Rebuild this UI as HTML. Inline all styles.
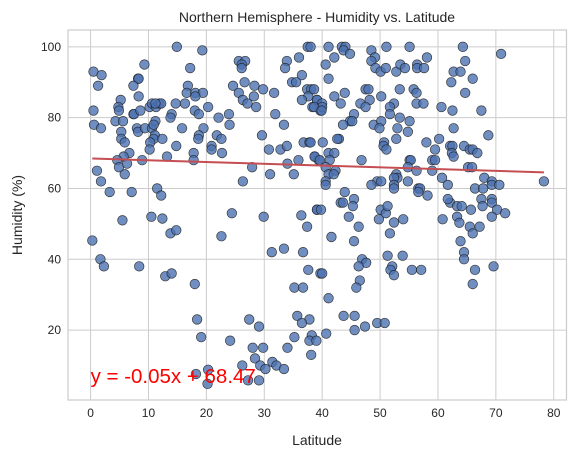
<!DOCTYPE html>
<html><head><meta charset="utf-8"><style>
body{margin:0;background:#fff;}
svg{display:block;font-family:"Liberation Sans","DejaVu Sans",sans-serif;}
</style></head><body>
<svg id="chart" width="575" height="457" viewBox="0 0 575 457" xmlns="http://www.w3.org/2000/svg">
<rect x="0" y="0" width="575" height="457" fill="#fff"/>
<g id="grid"></g>
<g id="ticks"></g>
<g id="points"></g>
<g id="fit"></g>
<text x="317" y="22" text-anchor="middle" font-size="14" fill="#262626">Northern Hemisphere - Humidity vs. Latitude</text>
<text x="317" y="445" text-anchor="middle" font-size="14" fill="#262626">Latitude</text>
<text transform="translate(22,215) rotate(-90)" text-anchor="middle" font-size="14" fill="#262626">Humidity (%)</text>
</svg>
<script>
const lat = [14.9,19.3,0.5,1.9,1.3,9.3,8.2,8.3,7.4,17.2,16.8,16.6,18.1,19.4,18.1,8.3,5.2,4.8,4.9,0.5,7.4,7.5,8.6,10.2,10.6,11.3,11.9,12.2,11.2,14.7,16.3,18,18.7,20.3,22.1,23.9,24,4.3,5.6,0.6,1.8,5.3,8,8.2,9.4,10.6,11.2,10.9,14,13.8,15.8,19.5,18.7,18.6,11.1,10.9,10.3,10.2,12.4,5.3,5.9,14.8,21.8,22.6,20.9,20.9,22.7,17.8,17.8,13.2,6.7,5.7,4.6,4.9,6.3,8.9,1.1,1.8,5.9,3.3,7.1,11.5,12.2,10.5,12.4,5.5,26.3,27.9,31,29.6,30.8,32.8,33.9,31.9,33.4,25.6,26.7,26.1,26.1,24.6,26.6,25.6,28.3,28.2,29.8,31.7,26.3,27.1,28.6,24.4,29.9,33.9,33.6,36,37.5,36.5,34.8,35.5,37.4,38.1,37.6,36.5,38.3,39.1,39.7,36.8,37.8,35.9,34,35.1,36.4,38.7,39.4,39.1,
38,41.1,43.4,44,43.7,44.8,48.5,49.1,48.5,49.2,50.1,51,51.1,55.1,42.1,40.6,41.1,52.8,53.5,54.3,56.4,56.4,57.6,58.1,64.3,64.7,70.9,62.7,63.9,66,62.3,64.7,38.6,42.1,43.9,43.2,47.5,48,48.2,46.6,47.5,50.2,53.4,55.8,56.3,56.3,57.5,52.4,51.7,51.7,39.1,40,40,38.6,39.9,45.5,44.8,43.6,45.2,48.9,50.2,49.9,53.4,55.1,54.8,53,52.8,60.6,62.5,67.5,62.7,68.7,42.9,42.6,40.1,38,50.7,50.6,51.1,58,60.2,59.5,62.1,62.5,62.4,62.7,64.5,65.5,66,66.8,38.7,39.6,41.1,42.1,41.3,46.8,55.1,55.3,59,59.5,40.6,41.1,42.3,42,40.6,40.6,52.8,53,52.4,54.8,56.3,59,49.5,50.2,48.5,52.4,52.4,54.8,56.6,56.9,56.6,58.2,65.2,65.9,60.7,61.7,68,69.3,69.3,70.6,66.4,67.8,78.3,43.9,45.5,43.2,43.6,45.3,44.6,39.1,39.8,62.1,63.3,64.1,65.7,63.3,61.7,67.5,69.3,67.7,69.3,70.2,71.6,69.3,50.1,51,51.3,
13.8,14.8,0.3,22.6,37.4,31.3,33.4,36.7,1.7,2.3,8.4,12.9,14,18,37.6,39.7,35.2,36.7,18.4,19.1,27.4,29.1,24.1,35.7,37.8,36.5,35.2,38.2,37.8,39,38.1,28,29.8,28.4,26.2,29.3,30.2,31.4,32.1,33.4,34,18.2,20.3,20.2,27.2,29.1,
49.8,52.4,54,46.3,41.6,45.5,51.7,60.8,63.7,65.5,67.2,66,63.9,64.5,64.5,66.4,66,69.6,46.9,47.6,46.3,51.3,53.9,52.1,51.8,52.4,55.5,57.1,40,46.5,45.9,41.1,43.7,45.6,47.4,45.6,49.5,50.8,40.7];
const humidity = [100,99,93,92,89,95,91,91,89,94,89,87,87,87,86,86,85,83,82,82,81,81,82,83,84,83,84,84,84,84,84,82,81,83,80,81,78,79,79,78,77,76,77,76,77,77,79,78,81,80,77,77,75,74,75,74,73,71,74,74,73,72,75,74,72,71,70,70,68,69,70,69,68,66,67,68,65,62,64,59,59,60,58,52,51.5,51,62,66,64,75,71,71,72,81,78,96,96,95,94,89,90,87,89,86,88,87,85,84,83,53,52,96,94,97,100,92,90,90,88,88,86,85,83,85,82,73,73,68,67,64,52.4,69,68,54,
100,100,100,100,99,98,99,97,96,94,93,94,100,100,97,95,91,93,95,94,95,94,94,97,100,96,98,93,93,91,90,87,88,86,87,84,88,88,85,84,83,86,88,88,87,84,84,84,83,81,85,84,83,83,82,81,79,78,79,78,79,77,80,79,76,77,74,83,82,82,77,75,74,74,73,73,73,72,71,73,74,71,72,72,70,69,72,71,71,70,69,68,70,70,68,68,68,68,68,68,66,64,65,64,62,61,64,63,63,66,65,65,62,62,61,61,60,62,60,60,59,58,66,66,63,61,63,62,61,61,60,60,62,59,57,56,56,55,52,54,54,56,55,55,54,52,57,57,57,55,56,54,53,52,54,53,55,
47.3,48.2,45.3,46.5,49.2,42,43,42,40,38,38,35.2,36,33,37,36,32,32,23,18,23,21,17,24,23,22,18,18.5,17,17,13,15,15,12,10,10,9,11,10,9,15,7.6,8.8,4.8,5.8,5.8,
51.3,50.4,51.3,49.2,46.3,45.1,47.3,51.3,50.3,49.2,49.2,47.3,45.1,42,40,37,33,38,40,39,38,41,41,38,37,35.5,37,37,36,34,32,29,24,24,21,20,22,22,19];
const slope = -0.05;
const intercept = 68.47;
const xTicks = [0,10,20,30,40,50,60,70,80];
const yTicks = [20,40,60,80,100];

const NS='http://www.w3.org/2000/svg';
const L=68,R=566.5,T=30,B=400;
const xmin=-3.9,xmax=82.2,ymin=0.25,ymax=104.75;
const sx=v=>L+(v-xmin)/(xmax-xmin)*(R-L);
const sy=v=>B-(v-ymin)/(ymax-ymin)*(B-T);
function mk(tag,attrs,parent){const e=document.createElementNS(NS,tag);for(const k in attrs)e.setAttribute(k,attrs[k]);parent.appendChild(e);return e;}
const grid=document.getElementById('grid'),ticks=document.getElementById('ticks');
xTicks.forEach(t=>{
  const g=mk('line',{x1:sx(t),x2:sx(t),y1:T,y2:B,stroke:'#cccccc','stroke-width':1},grid);
  
  
  const tx=mk('text',{x:sx(t),y:B+17,'text-anchor':'middle','font-size':12,fill:'#262626'},ticks);
  tx.textContent=t;
  
  
});
yTicks.forEach(t=>{
  const g=mk('line',{x1:L,x2:R,y1:sy(t),y2:sy(t),stroke:'#cccccc','stroke-width':1},grid);
  
  
  const tx=mk('text',{x:L-7,y:sy(t)+4,'text-anchor':'end','font-size':12,fill:'#262626'},ticks);
  tx.textContent=t;
  
  
});
const frame=mk('rect',{x:L,y:T,width:R-L,height:B-T,fill:'none',stroke:'#cccccc','stroke-width':1.2},grid);


const pts=document.getElementById('points');
const n=Math.min(lat.length,humidity.length);
for(let i=0;i<n;i++){
  const c=mk('circle',{cx:sx(lat[i]),cy:sy(humidity[i]),r:4.8,fill:'#4c72b0','fill-opacity':0.8,stroke:'#1a1a1a','stroke-width':0.7,'stroke-opacity':0.8},pts);
  
  
}
const fit=document.getElementById('fit');
const x0=Math.min(...lat),x1=Math.max(...lat);
const ln=mk('line',{x1:sx(x0),y1:sy(slope*x0+intercept),x2:sx(x1),y2:sy(slope*x1+intercept),stroke:'#c44e52','stroke-width':2},fit);


const eq=mk('text',{x:sx(0),y:sy(5),'font-size':20.5,fill:'#ff0000'},fit);
eq.textContent='y = '+slope.toFixed(2)+'x + '+intercept.toFixed(2);


</script>
</body></html>
